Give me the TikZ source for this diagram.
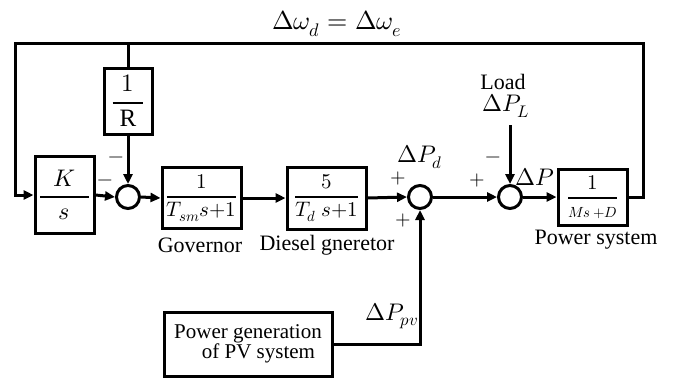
\documentclass[tikz,border=0pt]{standalone}
\usepackage{amsmath}
\usepackage{fontspec}
\usepackage{unicode-math}
\setmainfont{Liberation Serif}
\usetikzlibrary{arrows.meta}
\newcommand{\bfr}[2]{\genfrac{}{}{2.2pt}{0}{#1}{#2}}
\begin{document}
\begin{tikzpicture}[x=1pt,y=-1pt,
  every path/.style={line width=3pt},
  blk/.style={draw,line width=3pt,minimum width=#1,inner sep=0pt},
  sumc/.style={draw,circle,line width=3pt,minimum size=23pt,inner sep=0pt},
  arr/.style={-{Triangle[length=10pt,width=9pt]}},
  lbl/.style={font=\fontsize{22}{24}\selectfont,inner sep=0pt},
  sgn/.style={font=\fontsize{20}{20}\selectfont,inner sep=0pt}]
\useasboundingbox (0,0) rectangle (674,378);
% blocks
\node[blk=48pt,minimum height=66pt] (Rb) at (128,101) {\fontsize{25}{27}\selectfont$\bfr{1}{\;\mathrm{R}\;}$};
\node[blk=59pt,minimum height=77pt] (K) at (64.5,195) {\fontsize{24}{26}\selectfont$\bfr{\;\;K\;\;}{s}$};
\node[blk=79pt,minimum height=61pt] (gov) at (201.5,198) {\fontsize{21}{24}\selectfont$\bfr{1}{T_{sm}s{+}1}$};
\node[blk=79pt,minimum height=62pt] (dg) at (326.5,198) {\fontsize{21}{24}\selectfont$\bfr{5}{T_d\ s{+}1}$};
\node[blk=69pt,minimum height=56pt] (pw) at (592.5,197) {\fontsize{21}{24}\selectfont$\bfr{1}{\scriptstyle Ms\,+D}$};
\node[blk=168pt,minimum height=64pt,align=center] (pv) at (248,344) {\fontsize{21}{25}\selectfont Power generation\\\fontsize{21}{25}\selectfont\quad of PV system};
% sums
\node[sumc] (s1) at (128,197) {};
\node[sumc] (s2) at (420,197) {};
\node[sumc] (s3) at (510,197) {};
% coordinates
\coordinate (TL) at (15,43);
\coordinate (TR) at (643,43);
\coordinate (LD) at (510,125);
% connectors
\draw[arr] (pw.east) -| (TR) -- (TL) |- (K.west);
\draw (Rb.north) -- (Rb.north |- TL);
\draw[arr] (Rb.south) -- (s1.north);
\draw[arr] (K.east) -- (s1.west);
\draw[arr] (s1.east) -- (gov.west);
\draw[arr] (gov.east) -- (dg.west);
\draw[arr] (dg.east) -- (s2.west);
\draw[arr] (s2.east) -- (s3.west);
\draw[arr] (s3.east) -- (pw.west);
\draw[arr] (pv.east) -| (s2.south);
\draw[arr] (LD) -- (s3.north);
% labels
\node[lbl] (top) at (337,24) {\fontsize{26}{28}\selectfont$\Delta\omega_d=\Delta\omega_e$};
\node[lbl] (gl) at (200,245) {Governor};
\node[lbl] (dl) at (327,245) {Diesel gneretor};
\node[lbl] (pl) at (596,240) {Power system};
\node[lbl] (load) at (503,82) {Load};
\node[lbl] (dpl) at (506,106) {\fontsize{24}{26}\selectfont$\Delta P_L$};
\node[lbl] (dpd) at (420,157) {\fontsize{24}{26}\selectfont$\Delta P_d$};
\node[lbl] (dp) at (535,177) {\fontsize{24}{26}\selectfont$\Delta P$};
\node[lbl] (dppv) at (392,316) {\fontsize{24}{26}\selectfont$\Delta P_{pv}$};
\node[sgn] (m1) at (116,160) {$-$};
\node[sgn] (m2) at (105,183) {$-$};
\node[sgn] (p1) at (398,178) {$+$};
\node[sgn] (p2) at (403,220) {$+$};
\node[sgn] (p3) at (477,180) {$+$};
\node[sgn] (m3) at (493,160) {$-$};
\end{tikzpicture}
\end{document}
